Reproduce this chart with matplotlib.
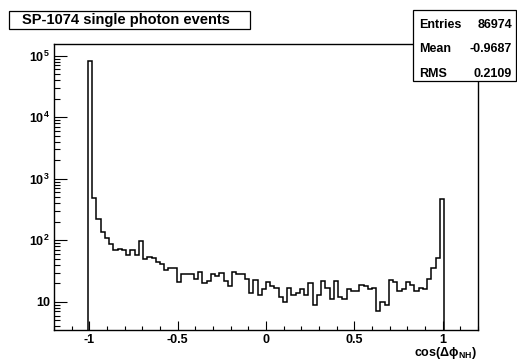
import numpy as np
import matplotlib
matplotlib.use("Agg")
import matplotlib.pyplot as plt
from matplotlib.patches import Rectangle
from matplotlib.ticker import FixedLocator, LogLocator, MultipleLocator, NullFormatter

plt.rcParams["font.family"] = ["Liberation Sans", "DejaVu Sans"]
plt.rcParams["font.weight"] = "bold"
plt.rcParams["mathtext.fontset"] = "custom"
plt.rcParams["mathtext.rm"] = "Liberation Sans:bold"
plt.rcParams["mathtext.bf"] = "Liberation Sans:bold"
plt.rcParams["mathtext.it"] = "Liberation Sans:bold"

# histogram: 100 bins over [-1.2, 1.2], only bins 8..91 are filled
x_min, x_max, n_bins = -1.2, 1.2, 100
first_bin = 8
counts = [
    83430, 488, 225, 135, 109, 88, 69, 72, 70, 58,
    70, 58, 96, 50, 54, 52, 45, 42, 33, 36,
    36, 21, 28, 28, 28, 24, 31, 20, 22, 28,
    26, 30, 22, 18, 31, 28, 28, 24, 14, 23,
    13, 16, 21, 18, 17, 12, 10, 17, 13, 14,
    16, 13, 20, 9, 13, 22, 17, 11, 22, 12,
    11, 16, 15, 15, 19, 18, 16, 17, 7, 10,
    9, 23, 21, 15, 16, 21, 19, 15, 17, 16,
    24, 36, 52, 470,
]

title = "SP-1074 single photon events"
stat_names = ["Entries", "Mean", "RMS"]
stat_values = ["86974", "-0.9687", "0.2109"]
x_ticks = [-1, -0.5, 0, 0.5, 1]
x_tick_labels = ["-1", "-0.5", "0", "0.5", "1"]
y_ticks = [10, 1e2, 1e3, 1e4, 1e5]
y_tick_labels = ["10", r"$10^{2}$", r"$10^{3}$", r"$10^{4}$", r"$10^{5}$"]

W, H = 517, 360
fig = plt.figure(figsize=(W / 100, H / 100), dpi=100)
ax = fig.add_axes([54 / W, 30 / H, 424 / W, 286 / H])

edges = np.linspace(x_min, x_max, n_bins + 1)
counts = np.asarray(counts, dtype=float)
used_edges = edges[first_bin:first_bin + len(counts) + 1]
ax.stairs(counts, used_edges, baseline=1e-3, color="black", lw=1.1)

ax.set_yscale("log")
ax.set_xlim(x_min, x_max)
ax.set_ylim(3.5, 1.55e5)

ax.xaxis.set_major_locator(FixedLocator(x_ticks))
ax.set_xticklabels(x_tick_labels)
ax.xaxis.set_minor_locator(MultipleLocator(0.1))
ax.yaxis.set_major_locator(FixedLocator(y_ticks))
ax.set_yticklabels(y_tick_labels)
ax.yaxis.set_minor_locator(LogLocator(base=10, subs=np.arange(2, 10)))
ax.yaxis.set_minor_formatter(NullFormatter())

ax.tick_params(axis="both", which="both", direction="in", top=False, right=False,
               labelsize=9, width=0.8)
ax.tick_params(axis="x", which="major", length=6.2, pad=3)
ax.tick_params(axis="x", which="minor", length=3.1)
ax.tick_params(axis="y", which="major", length=9.1, pad=3)
ax.tick_params(axis="y", which="minor", length=4.6)
for sp in ax.spines.values():
    sp.set_linewidth(1.0)

fig.text(477 / W, 1 - 356 / H, r"cos($\Delta\phi_{\mathrm{NH}}$)",
         ha="right", va="baseline", fontsize=9)

# title box
fig.add_artist(Rectangle((9 / W, 1 - 29 / H), 241 / W, 18 / H,
                         transform=fig.transFigure, facecolor="white",
                         edgecolor="black", lw=0.9, zorder=10))
fig.text(126 / W, 1 - 20 / H, title, ha="center", va="center",
         fontsize=10.5, zorder=11)

# stats box
fig.add_artist(Rectangle((413 / W, 1 - 81 / H), 103 / W, 71 / H,
                         transform=fig.transFigure, facecolor="white",
                         edgecolor="black", lw=0.9, zorder=10))
for i, (name, val) in enumerate(zip(stat_names, stat_values)):
    y = 1 - (25 + 24.5 * i) / H
    fig.text(419 / W, y, name, ha="left", va="center", fontsize=9, zorder=11)
    fig.text(512 / W, y, val, ha="right", va="center", fontsize=9, zorder=11)

fig.savefig("out.png", dpi=100)
